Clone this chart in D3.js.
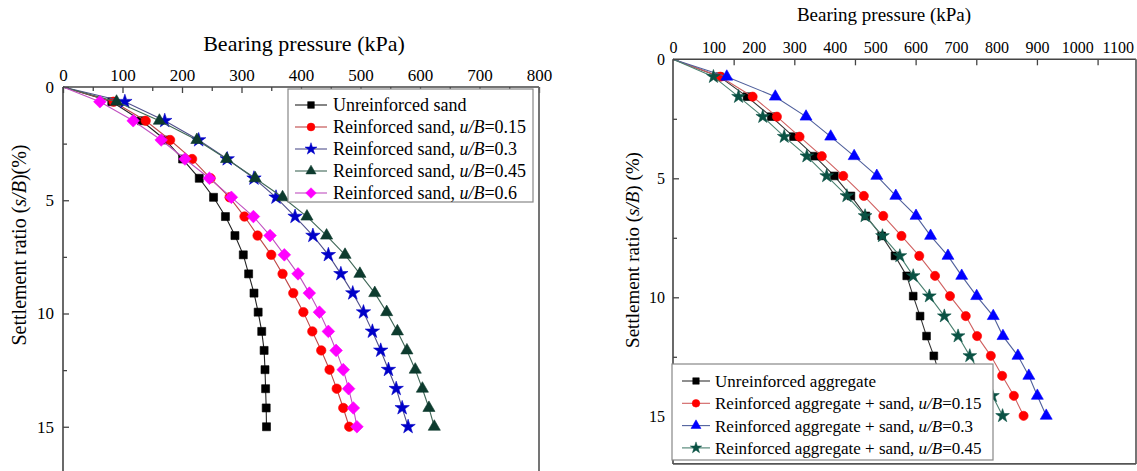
<!DOCTYPE html>
<html><head><meta charset="utf-8">
<script src="https://cdn.jsdelivr.net/npm/d3@7"></script>
<style>
body{margin:0;background:#fff}
svg{display:block}
svg text{font-family:"Liberation Serif","Times New Roman",serif !important;fill:#000}
</style>
</head><body>
<svg id="c" width="1137" height="471" font-family="Liberation Serif"></svg>
<script>
// ---------------- Left panel data (sand) ----------------
const leftSettlement = [0, 0.65, 1.49, 2.34, 3.18, 4.03, 4.87, 5.72, 6.56, 7.41, 8.25, 9.10, 9.94, 10.79, 11.63, 12.48, 13.32, 14.17, 15.0];
const leftUnreinforced = [0, 82, 132, 172, 201, 229, 253, 273, 289, 303, 312, 321, 328, 334, 338, 339.5, 340.5, 341.5, 342];
const leftUB015 = [0, 85, 139, 180, 217, 248, 280, 305, 327, 350, 369, 387, 404, 419, 434, 448, 460, 471, 481];
const leftUB030 = [0, 104, 171, 228, 276, 321, 358, 390, 420, 446, 467, 487, 505, 520, 534, 547, 560, 570, 580];
const leftUB045 = [0, 90, 162, 225, 275, 323, 369, 410, 443, 474, 499, 524, 544, 562, 578, 592, 604, 615, 624];
const leftUB060 = [0, 62, 118, 165, 205, 246, 283, 320, 348, 372, 395, 414, 431, 446, 459, 471, 480, 488, 494];
const leftXTicks = [0, 100, 200, 300, 400, 500, 600, 700, 800];
const leftXMinor = [50, 150, 250, 350, 450, 550, 650, 750];
const leftYTicks = [0, 5, 10, 15];
const leftYMinor = [2.5, 7.5, 12.5];
const leftNames = ["Unreinforced sand", "Reinforced sand, |u/B|=0.15", "Reinforced sand, |u/B|=0.3", "Reinforced sand, |u/B|=0.45", "Reinforced sand, |u/B|=0.6"];

// ---------------- Right panel data (aggregate) ----------------
const rightSettlement = [0, 0.73, 1.57, 2.41, 3.25, 4.07, 4.90, 5.74, 6.58, 7.42, 8.26, 9.10, 9.95, 10.79, 11.63, 12.46, 13.30, 14.14, 14.98];
const rightUnreinforced = [0, 115, 183, 243, 298, 350, 399, 440, 477, 516, 549, 578, 594, 611, 627, 645, 660];
const rightUB015 = [0, 117, 197, 257, 313, 368, 421, 472, 520, 565, 609, 648, 685, 724, 752, 786, 814, 843, 867];
const rightUB030 = [0, 133, 253, 329, 390, 448, 504, 551, 601, 637, 680, 714, 751, 792, 816, 853, 880, 901, 923];
const rightUB045 = [0, 100, 162, 222, 275, 331, 380, 430, 475, 518, 561, 594, 634, 671, 705, 734, 763, 790, 815];
const rightXLabels = [0, 100, 200, 300, 400, 500, 600, 700, 800, 900, 1000, 1100];
const rightXTicks = [150, 300, 450, 600, 750, 900, 1050];
const rightYTicks = [0, 5, 10, 15];
const rightYMinor = [2.5, 7.5, 12.5];
const rightNames = ["Unreinforced aggregate", "Reinforced aggregate + sand, |u/B|=0.15", "Reinforced aggregate + sand, |u/B|=0.3", "Reinforced aggregate + sand, |u/B|=0.45"];

const SERIF = "'Liberation Serif', 'Times New Roman', serif";
const svg = d3.select("#c");
const diamond = {draw(ctx, size){const r=Math.sqrt(size/2); ctx.moveTo(0,-r); ctx.lineTo(r,0); ctx.lineTo(0,r); ctx.lineTo(-r,0); ctx.closePath();}};

function richText(sel, str){
  str.split("|").forEach((seg,i)=>{ if(seg.length) sel.append("tspan").attr("font-style", i%2 ? "italic" : null).text(seg); });
}

function panel(cfg){
  const g = svg.append("g");
  const x = d3.scaleLinear().domain(cfg.xDomain).range(cfg.xRange);
  const y = d3.scaleLinear().domain(cfg.yDomain).range(cfg.yRange);
  const frame = "#444";
  const ax = g.append("g").attr("transform",`translate(0,${cfg.yRange[0]})`)
    .call(d3.axisTop(x).tickValues(cfg.xLabels).tickSize(cfg.xLabelTick).tickPadding(cfg.xPad).tickFormat(d3.format("d")));
  ax.select(".domain").remove();
  ax.attr("font-family", null);
  ax.selectAll("text").attr("font-size", cfg.tickFont);
  ax.selectAll("line").attr("stroke", frame).attr("stroke-width",1.3);
  if(cfg.xMinor){
    const am = g.append("g").attr("transform",`translate(0,${cfg.yRange[0]})`)
      .call(d3.axisTop(x).tickValues(cfg.xMinor).tickSize(cfg.xMinorSize).tickFormat(""));
    am.select(".domain").remove();
    am.selectAll("line").attr("stroke", frame).attr("stroke-width",1.3);
  }
  const ay = g.append("g").attr("transform",`translate(${cfg.xRange[0]},0)`)
    .call(d3.axisLeft(y).tickValues(cfg.yTicks).tickSize(-6).tickPadding(cfg.yPad).tickFormat(d3.format("d")));
  ay.select(".domain").remove();
  ay.attr("font-family", null);
  ay.selectAll("text").attr("font-size", cfg.tickFont);
  ay.selectAll("line").attr("stroke", frame).attr("stroke-width",1.3);
  const aym = g.append("g").attr("transform",`translate(${cfg.xRange[0]},0)`)
    .call(d3.axisLeft(y).tickValues(cfg.yMinor).tickSize(-4).tickFormat(""));
  aym.select(".domain").remove();
  aym.selectAll("line").attr("stroke", frame).attr("stroke-width",1.3);

  cfg.series.forEach(s=>{
    const pts = s.values.map((v,i)=>[x(v), y(cfg.settlement[i])]);
    g.append("path").attr("d", d3.line()(pts)).attr("fill","none").attr("stroke", s.line).attr("stroke-width",1.1);
    const sym = d3.symbol().type(s.type).size(s.size);
    g.selectAll(null).data(pts.slice(1)).join("path")
      .attr("d", sym).attr("transform", d=>`translate(${d[0]},${d[1]})`)
      .attr("fill", s.color).attr("stroke", s.color).attr("stroke-width",0.6);
  });

  const [x0,x1] = cfg.xRange, [y0,y1] = cfg.yRange;
  g.append("line").attr("x1",x0).attr("x2",x1).attr("y1",y0).attr("y2",y0).attr("stroke",frame).attr("stroke-width",1.6);
  g.append("line").attr("x1",x0).attr("x2",x0).attr("y1",y0).attr("y2",y1).attr("stroke",frame).attr("stroke-width",1.6);
  g.append("line").attr("x1",x1).attr("x2",x1).attr("y1",y0).attr("y2",y1).attr("stroke","#666").attr("stroke-width",1.8);
  if(cfg.bottom) g.append("line").attr("x1",x0).attr("x2",x1).attr("y1",y1).attr("y2",y1).attr("stroke","#555").attr("stroke-width",1.8);

  const L = cfg.legend;
  g.append("rect").attr("x",L.x).attr("y",L.y).attr("width",L.w).attr("height",L.h)
    .attr("fill","#fff").attr("stroke","#888").attr("stroke-width",1.2);
  cfg.series.forEach((s,i)=>{
    const cy = L.y + L.first + i*L.step;
    g.append("line").attr("x1",L.lx0).attr("x2",L.lx1).attr("y1",cy).attr("y2",cy).attr("stroke",s.line).attr("stroke-width",1.1);
    g.append("path").attr("d", d3.symbol().type(s.type).size(s.size*0.7)).attr("transform",`translate(${(L.lx0+L.lx1)/2},${cy})`)
      .attr("fill", s.color).attr("stroke", s.color).attr("stroke-width",0.5);
    const t = g.append("text").attr("x",L.tx).attr("y",cy).attr("dy","0.35em").attr("font-size",L.font);
    richText(t, cfg.names[i]);
  });

  g.append("text").attr("x",cfg.title.x).attr("y",cfg.title.y).attr("text-anchor","middle").attr("font-size",cfg.title.font).text("Bearing pressure (kPa)");
  const yt = g.append("text").attr("transform",`translate(${cfg.ytitle.x},${cfg.ytitle.y}) rotate(-90)`)
    .attr("text-anchor","middle").attr("dy","0.35em").attr("font-size",cfg.ytitle.font);
  richText(yt, cfg.ytitle.text);
}

panel({
  xDomain:[0,800], xRange:[63,539], yDomain:[0,17.5], yRange:[87, 87+17.5*22.65],
  settlement:leftSettlement,
  xLabels:leftXTicks, xLabelTick:-6, xPad:6, xMinor:leftXMinor, xMinorSize:-4,
  yTicks:leftYTicks, yMinor:leftYMinor, yPad:9, tickFont:"17px",
  series:[
    {values:leftUnreinforced, color:"#000", line:"#222", type:d3.symbolSquare, size:64},
    {values:leftUB015, color:"#ff0000", line:"#c04848", type:d3.symbolCircle, size:70},
    {values:leftUB030, color:"#0000c8", line:"#50508c", type:d3.symbolStar, size:64},
    {values:leftUB045, color:"#0d3b2e", line:"#406858", type:d3.symbolTriangle, size:64},
    {values:leftUB060, color:"#ff00ff", line:"#c050c0", type:diamond, size:80}
  ],
  names:leftNames,
  legend:{x:288,y:89,w:245,h:113,first:16,step:22,lx0:295,lx1:327,tx:333,font:"18px"},
  title:{x:304,y:51,font:"22px"},
  ytitle:{x:19,y:245,font:"20px",text:"Settlement ratio (|s/B|)(%)"},
  bottom:false
});

panel({
  xDomain:[0,1145], xRange:[673,1136], yDomain:[0,17], yRange:[59.3, 59.3+17*23.8],
  settlement:rightSettlement,
  xLabels:rightXLabels, xLabelTick:0, xPad:6, xMinor:rightXTicks, xMinorSize:-6,
  yTicks:rightYTicks, yMinor:rightYMinor, yPad:8, tickFont:"16px",
  series:[
    {values:rightUnreinforced, color:"#000", line:"#333", type:d3.symbolSquare, size:60},
    {values:rightUB015, color:"#ff0000", line:"#d06060", type:d3.symbolCircle, size:66},
    {values:rightUB030, color:"#0000ff", line:"#50609c", type:d3.symbolTriangle, size:62},
    {values:rightUB045, color:"#0a5244", line:"#4a8070", type:d3.symbolStar, size:58}
  ],
  names:rightNames,
  legend:{x:672,y:364,w:321,h:96,first:17,step:22.3,lx0:682,lx1:710,tx:715,font:"17px"},
  title:{x:884,y:21,font:"19px"},
  ytitle:{x:632,y:250,font:"19px",text:"Settlement ratio (|s/B|) (%)"},
  bottom:true
});

svg.selectAll("text").style("font-family", SERIF);
</script>
</body></html>
